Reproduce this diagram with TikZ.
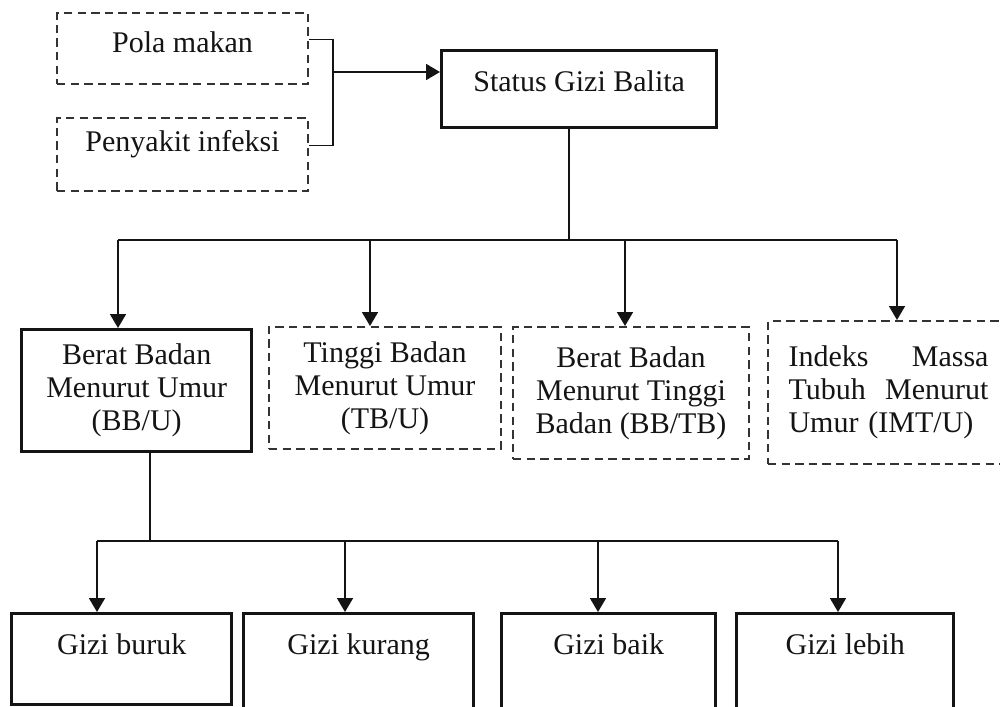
\documentclass[tikz,border=0pt]{standalone}
\usepackage{fontspec}
\setmainfont{Liberation Serif}
\usetikzlibrary{arrows.meta}

\begin{document}
\begin{tikzpicture}[x=0.5pt, y=-0.5pt, font=\fontsize{15}{16.5}\selectfont, line join=miter]
  \definecolor{Ink}{HTML}{141414}
  \definecolor{DashGray}{HTML}{333333}

  \tikzset{
    box/.style={draw=Ink, text=Ink, rectangle, anchor=north west, inner xsep=2pt},
    solidbox/.style={box, line width=1.7pt},
    dashbox/.style={box, draw=DashGray, line width=1pt, dash pattern=on 4.2pt off 2.6pt},
    oneline/.style 2 args={inner ysep=0pt, text height=#1, text depth=#2},
    link/.style={draw=Ink, line width=0.9pt},
    arr/.style={link, -{Triangle[length=7pt, width=8pt]}}
  }

  \clip (0,0) rectangle (1000,706);

  % Causes and main status
  \node[dashbox, oneline={20pt}{15.5pt}, minimum width=125.5pt] (pola) at (56,12) {Pola makan};
  \node[dashbox, oneline={16.5pt}{20pt}, minimum width=125.5pt] (infeksi) at (56,117) {Penyakit infeksi};
  \node[solidbox, oneline={20.5pt}{18pt}, minimum width=137.5pt] (status) at (440,49) {Status Gizi Balita};

  % Indices
  \node[solidbox, align=center, minimum width=115pt, minimum height=61pt] (bbu) at (20,328)
    {Berat Badan\\Menurut Umur\\(BB/U)};
  \node[dashbox, align=center, minimum width=116pt, minimum height=61pt] (tbu) at (268,326)
    {Tinggi Badan\\Menurut Umur\\(TB/U)};
  \node[dashbox, align=center, minimum width=118pt, minimum height=66pt] (bbtb) at (512,326)
    {Berat Badan\\Menurut Tinggi\\Badan (BB/TB)};
  \node[dashbox, align=left, text width=100pt, minimum width=120.5pt, minimum height=71.5pt] (imtu) at (767,320)
    {Indeks \hfill Massa\\Tubuh \hfill Menurut\\Umur (IMT/U)};

  % Categories
  \node[solidbox, oneline={20.5pt}{25pt}, minimum width=110pt] (buruk) at (10,612) {Gizi buruk};
  \node[solidbox, oneline={20.5pt}{30pt}, minimum width=115pt] (kurang) at (242,612) {Gizi kurang};
  \node[solidbox, oneline={20.5pt}{30pt}, minimum width=107pt] (baik) at (500,612) {Gizi baik};
  \node[solidbox, oneline={20.5pt}{30pt}, minimum width=108.5pt] (lebih) at (735,612) {Gizi lebih};

  % Bracket joining the causes
  \coordinate (join) at (333,72);
  \draw[link] ([yshift=4.5pt]pola.east) -| (join) |- ([yshift=4.5pt]infeksi.east);
  \draw[arr] (join) -- (join -| status.west);

  % Status to indices
  \coordinate (busA) at (569,240);
  \draw[link] (status.south -| busA) -- (busA);
  \foreach \x/\n in {118/bbu, 370/tbu, 625/bbtb, 897/imtu} {
    \coordinate (top-\n) at (\x,240);
    \draw[arr] (top-\n) -- (top-\n |- \n.north);
  }
  \draw[link] (top-bbu) -- (top-imtu);

  % BB/U to categories
  \coordinate (busB) at (150,541);
  \draw[link] (bbu.south -| busB) -- (busB);
  \foreach \x/\n in {97/buruk, 345/kurang, 598/baik, 838/lebih} {
    \coordinate (top-\n) at (\x,541);
    \draw[arr] (top-\n) -- (top-\n |- \n.north);
  }
  \draw[link] (top-buruk) -- (top-lebih);
\end{tikzpicture}
\end{document}
